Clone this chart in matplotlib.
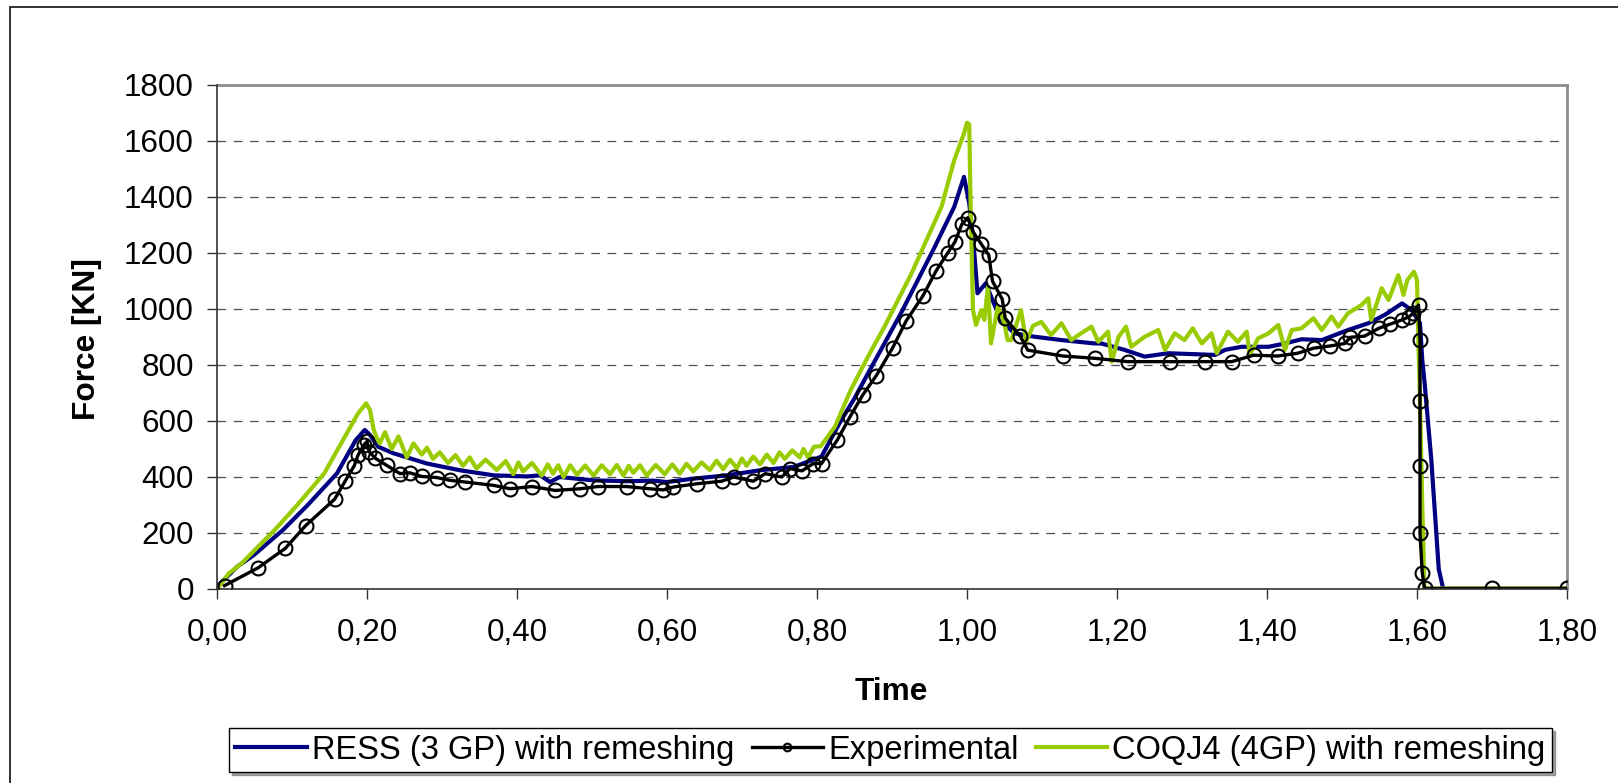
import matplotlib
matplotlib.use("Agg")
import matplotlib.pyplot as plt
from matplotlib.patches import Rectangle
from matplotlib.ticker import FuncFormatter, MultipleLocator

plt.rcParams['font.family'] = ['Liberation Sans', 'DejaVu Sans']

# ---------------- data ----------------
ress_t = [0.000, 0.027, 0.049, 0.088, 0.121, 0.160, 0.185, 0.197, 0.204, 0.215,
          0.235, 0.280, 0.324, 0.369, 0.413, 0.431, 0.444, 0.457, 0.502, 0.546,
          0.582, 0.600, 0.635, 0.680, 0.724, 0.769, 0.806, 0.831, 0.850, 0.868,
          0.912, 0.957, 0.983, 0.996, 1.003, 1.008, 1.014, 1.025, 1.034, 1.045,
          1.063, 1.090, 1.126, 1.170, 1.179, 1.210, 1.237, 1.268, 1.331, 1.344,
          1.366, 1.402, 1.424, 1.446, 1.473, 1.508, 1.535, 1.557, 1.580, 1.593,
          1.604, 1.607, 1.610, 1.619, 1.629, 1.635, 1.800]
ress_f = [8, 80, 121, 211, 300, 413, 532, 568, 550, 508,
          485, 448, 424, 406, 402, 406, 382, 400, 388, 385,
          387, 382, 394, 406, 424, 436, 473, 597, 681, 770,
          985, 1222, 1365, 1472, 1377, 1258, 1056, 1092, 1032, 961,
          913, 901, 889, 877, 877, 854, 830, 842, 836, 854,
          865, 865, 877, 892, 889, 925, 949, 979, 1020, 996,
          949, 818, 740, 464, 71, 0, 0]

exp_t = [0.010, 0.055, 0.091, 0.118, 0.157, 0.171, 0.183, 0.188, 0.196, 0.200,
         0.203, 0.211, 0.226, 0.244, 0.257, 0.273, 0.293, 0.311, 0.331, 0.369,
         0.391, 0.420, 0.451, 0.484, 0.508, 0.546, 0.577, 0.595, 0.608, 0.640,
         0.673, 0.689, 0.715, 0.731, 0.753, 0.764, 0.780, 0.795, 0.806, 0.827,
         0.844, 0.861, 0.879, 0.901, 0.919, 0.941, 0.959, 0.974, 0.984, 0.993,
         1.001, 1.008, 1.019, 1.029, 1.034, 1.047, 1.051, 1.071, 1.081, 1.128,
         1.170, 1.214, 1.271, 1.317, 1.353, 1.382, 1.414, 1.441, 1.462, 1.484,
         1.504, 1.511, 1.530, 1.549, 1.564, 1.580, 1.589, 1.595, 1.602, 1.604,
         1.604, 1.604, 1.604, 1.607, 1.610, 1.700, 1.800]
exp_f = [12, 76, 145, 226, 321, 386, 440, 478, 515, 527,
         490, 467, 442, 412, 415, 402, 398, 388, 382, 370,
         358, 366, 352, 358, 366, 366, 358, 354, 364, 376,
         385, 400, 385, 412, 400, 430, 422, 448, 448, 532,
         615, 693, 762, 862, 958, 1046, 1137, 1199, 1240, 1302,
         1326, 1276, 1232, 1193, 1099, 1035, 967, 903, 853, 832,
         824, 812, 812, 812, 812, 835, 832, 842, 860, 868,
         877, 899, 903, 931, 946, 961, 972, 984, 1014, 889,
         672, 440, 199, 58, 2, 2, 2]

coq_t = [0.000, 0.016, 0.033, 0.077, 0.105, 0.143, 0.188, 0.199, 0.204, 0.209,
         0.213, 0.217, 0.224, 0.233, 0.242, 0.253, 0.262, 0.273, 0.280, 0.288,
         0.297, 0.308, 0.318, 0.328, 0.337, 0.346, 0.358, 0.373, 0.385, 0.395,
         0.402, 0.408, 0.420, 0.433, 0.441, 0.448, 0.455, 0.462, 0.471, 0.480,
         0.491, 0.502, 0.513, 0.524, 0.533, 0.542, 0.549, 0.555, 0.564, 0.573,
         0.585, 0.597, 0.607, 0.617, 0.626, 0.635, 0.646, 0.657, 0.666, 0.675,
         0.684, 0.693, 0.700, 0.706, 0.715, 0.724, 0.733, 0.742, 0.750, 0.757,
         0.767, 0.777, 0.782, 0.788, 0.796, 0.805, 0.824, 0.845, 0.868, 0.890,
         0.926, 0.966, 0.983, 0.996, 1.000, 1.003, 1.005, 1.008, 1.012, 1.019,
         1.023, 1.028, 1.032, 1.041, 1.050, 1.054, 1.059, 1.072, 1.079, 1.088,
         1.099, 1.112, 1.126, 1.139, 1.152, 1.166, 1.175, 1.188, 1.193, 1.202,
         1.212, 1.219, 1.237, 1.255, 1.264, 1.277, 1.290, 1.301, 1.313, 1.326,
         1.333, 1.348, 1.361, 1.373, 1.377, 1.388, 1.402, 1.415, 1.424, 1.433,
         1.446, 1.462, 1.473, 1.486, 1.495, 1.508, 1.526, 1.535, 1.539, 1.553,
         1.562, 1.575, 1.582, 1.587, 1.596, 1.600, 1.602, 1.604, 1.607, 1.610,
         1.800]
coq_f = [0, 56, 92, 211, 294, 413, 627, 663, 639, 568,
         540, 520, 560, 500, 545, 470, 520, 480, 505, 465,
         488, 450, 478, 440, 470, 430, 462, 425, 457, 410,
         452, 420, 450, 405, 445, 412, 442, 400, 442, 408,
         441, 405, 442, 410, 443, 405, 440, 415, 442, 405,
         443, 410, 445, 412, 447, 420, 452, 425, 458, 428,
         462, 432, 466, 440, 473, 445, 480, 450, 488, 465,
         495, 470, 500, 470, 508, 510, 580, 711, 830, 937,
         1127, 1365, 1532, 1627, 1665, 1660, 1342, 996, 943, 996,
         961, 1080, 877, 1008, 949, 889, 889, 996, 883, 940,
         954, 907, 949, 889, 913, 937, 883, 919, 812, 900,
         937, 865, 901, 925, 854, 913, 889, 931, 877, 913,
         842, 919, 883, 919, 836, 895, 913, 943, 854, 925,
         931, 967, 925, 973, 937, 985, 1014, 1038, 961, 1074,
         1032, 1121, 1050, 1103, 1133, 1103, 865, 675, 300, 2,
         2]

series_labels = ["RESS (3 GP) with remeshing", "Experimental", "COQJ4 (4GP) with remeshing"]
x_label = "Time"
y_label = "Force [KN]"

# ---------------- figure ----------------
W, H = 1618, 783
fig = plt.figure(figsize=(W / 100, H / 100), dpi=100)
ax = fig.add_axes([217 / W, 1 - 589 / H, (1567 - 217) / W, (589 - 85) / H])

l1, = ax.plot(ress_t, ress_f, color='#000080', lw=3.0, zorder=3, solid_joinstyle='round')
l3, = ax.plot(coq_t, coq_f, color='#99CC00', lw=3.0, zorder=4, solid_joinstyle='round')
l2, = ax.plot(exp_t, exp_f, color='black', lw=2.4, marker='o', markersize=10,
              markerfacecolor='none', markeredgecolor='black', markeredgewidth=1.5,
              zorder=5)

ax.set_xlim(0, 1.8)
ax.set_ylim(0, 1800)
ax.xaxis.set_major_locator(MultipleLocator(0.2))
ax.yaxis.set_major_locator(MultipleLocator(200))
ax.xaxis.set_major_formatter(FuncFormatter(lambda v, p: f"{v:.2f}".replace('.', ',')))
ax.yaxis.set_major_formatter(FuncFormatter(lambda v, p: f"{v:.0f}"))

ax.grid(axis='y', color='#505050', lw=0.9, linestyle=(0, (7, 6)))
ax.set_axisbelow(True)

for s in ['top', 'right']:
    ax.spines[s].set_color('#8c8c8c')
    ax.spines[s].set_linewidth(2.0)
for s in ['left', 'bottom']:
    ax.spines[s].set_color('#333333')
    ax.spines[s].set_linewidth(1.2)
    ax.spines[s].set_zorder(6)

ax.tick_params(axis='both', direction='out', length=7.2, width=1.0, color='#333333',
               labelsize=22.6)
ax.tick_params(axis='y', pad=9.5)
ax.tick_params(axis='x', pad=13.5)

fig.text(87.5 / W, 1 - 339 / H, y_label, rotation=90, ha='center', va='center',
         fontsize=22.8, fontweight='bold')
fig.text(891 / W, 1 - 692 / H, x_label, ha='center', va='center',
         fontsize=22.8, fontweight='bold')

leg = fig.legend([l1, l2, l3], series_labels, loc='center', ncol=3,
                 bbox_to_anchor=(890.5 / W, 1 - 750 / H), fontsize=23.5,
                 frameon=True, fancybox=False, shadow=True, numpoints=1,
                 handlelength=2.2, handletextpad=0.15, columnspacing=0.52,
                 borderpad=0.2, borderaxespad=0.0, markerscale=0.55)
leg.get_frame().set_edgecolor('black')
leg.get_frame().set_linewidth(1.0)

# outer chart border
fig.patches.append(Rectangle((10 / W, -0.1), 1.2, 1 - 7 / H + 0.1, transform=fig.transFigure,
                             fill=False, edgecolor='#222222', lw=1.3, zorder=0))

fig.savefig("out.png", dpi=100, facecolor='white')
